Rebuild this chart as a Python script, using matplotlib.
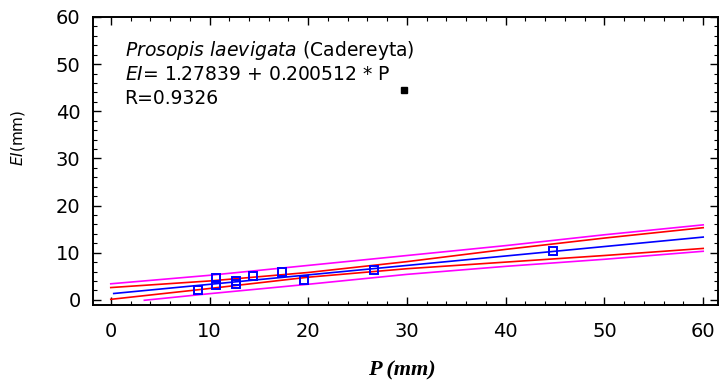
import matplotlib
matplotlib.use("Agg")
import matplotlib.pyplot as plt
from matplotlib.ticker import MultipleLocator
import numpy as np

p_obs = [8.8, 10.7, 10.7, 12.7, 12.7, 14.4, 17.3, 19.6, 26.7, 44.8]
ei_obs = [2.0, 4.6, 3.2, 3.9, 3.4, 5.1, 5.8, 4.1, 6.4, 10.4]

# fitted line
intercept = 1.27839
slope = 0.200512
fit_x = [0.3, 60]

# bands
band_x = [0, 10, 20, 30, 40, 50, 60]
conf_upper = [2.6, 4.0, 5.8, 8.1, 10.7, 13.1, 15.3]
conf_lower = [0.1, 2.4, 4.8, 6.6, 8.0, 9.4, 10.9]
pred_upper = [3.4, 5.2, 7.3, 9.4, 11.5, 13.8, 15.9]
pred_lower_x = [3.4, 10, 20, 30, 40, 50, 60]
pred_lower = [-0.1, 1.3, 3.3, 5.4, 7.1, 8.6, 10.3]

ticks = [0, 10, 20, 30, 40, 50, 60]

W, H = 721, 383
fig = plt.figure(figsize=(W / 100, H / 100), dpi=100)
ax = fig.add_axes([93 / W, 1 - 305 / H, (718 - 93) / W, (305 - 17) / H])

ax.plot(band_x, pred_upper, color="#ff00ff", lw=1.2)
ax.plot(pred_lower_x, pred_lower, color="#ff00ff", lw=1.2)
ax.plot(band_x, conf_upper, color="#ff0000", lw=1.2)
ax.plot(band_x, conf_lower, color="#ff0000", lw=1.2)
fx = np.array(fit_x)
ax.plot(fx, intercept + slope * fx, color="#0000ff", lw=1.2)
ax.plot(p_obs, ei_obs, linestyle="none", marker="s", markersize=5.5,
        markerfacecolor="none", markeredgecolor="#0000ff", markeredgewidth=1.4)

ax.set_xlim(-1.8, 61.5)
ax.set_ylim(-1.1, 60)
ax.set_xticks(ticks)
ax.set_yticks(ticks)
ax.xaxis.set_minor_locator(MultipleLocator(2))
ax.yaxis.set_minor_locator(MultipleLocator(2))
ax.tick_params(which="both", direction="in", top=True, right=True, colors="black")
ax.tick_params(which="major", length=6, width=1.0, labelsize=14)
ax.tick_params(axis="x", which="major", pad=12)
ax.tick_params(axis="y", which="major", pad=9)
ax.tick_params(which="minor", length=3, width=0.8)
for s in ax.spines.values():
    s.set_linewidth(1.4)

# annotations
fig.text(125 / W, 1 - 50 / H, r"$\it{Prosopis\ laevigata}$ (Cadereyta)",
         fontsize=13.5, va="center", ha="left")
fig.text(125 / W, 1 - 75 / H, r"$\it{EI}$= 1.27839 + 0.200512 * P",
         fontsize=13.5, va="center", ha="left")
fig.text(124 / W, 1 - 99 / H, "R=0.9326", fontsize=13.5, va="center", ha="left")
fig.patches.append(plt.Rectangle((401 / W, 1 - 93 / H), 6 / W, 6 / H,
                                 transform=fig.transFigure, facecolor="black",
                                 edgecolor="black", figure=fig))

fig.text(18 / W, 1 - 138 / H, r"$\it{EI}$(mm)", fontsize=11, rotation=90,
         va="center", ha="center")
fig.text(402 / W, 1 - 370 / H, "P (mm)", fontsize=16, family="Liberation Serif",
         weight="bold", style="italic", va="center", ha="center")

fig.savefig("out.png", dpi=100)
